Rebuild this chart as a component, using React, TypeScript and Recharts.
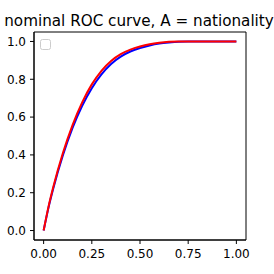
import { LineChart, Line, XAxis, YAxis, ReferenceArea, Customized } from 'recharts'

const fpr = [0, 0.025, 0.05, 0.1, 0.15, 0.2, 0.25, 0.3, 0.35, 0.4, 0.45, 0.5, 0.55, 0.6, 0.65, 0.7, 0.75, 0.8, 0.85, 0.9, 0.95, 1.0]
const tprBlue = [0, 0.12, 0.222, 0.398, 0.543, 0.66, 0.753, 0.826, 0.881, 0.92, 0.947, 0.965, 0.979, 0.989, 0.995, 0.999, 1.0, 1.0, 1.0, 1.0, 1.0, 1.0]
const tprRed = [0, 0.125, 0.23, 0.41, 0.558, 0.678, 0.773, 0.845, 0.897, 0.933, 0.957, 0.973, 0.985, 0.993, 0.998, 1.0, 1.0, 1.0, 1.0, 1.0, 1.0, 1.0]
const xTicks = [0, 0.25, 0.5, 0.75, 1.0]
const yTicks = [0, 0.2, 0.4, 0.6, 0.8, 1.0]
const title = 'nominal ROC curve, A = nationality'

const data = fpr.map((x, i) => ({ x, blue: tprBlue[i], red: tprRed[i] }))

const font = 'DejaVu Sans, sans-serif'
const tickStyle = { fontSize: 12, fill: '#000', fontFamily: font }

export default function App() {
  return (
    <div style={{ position: 'absolute', left: 0, top: 0, width: 274, height: 274, background: '#fff' }}>
      <LineChart width={274} height={274} data={data} margin={{ top: 32, right: 28, left: 0, bottom: 0 }}>
        <XAxis
          dataKey="x"
          type="number"
          domain={[-0.05, 1.05]}
          ticks={xTicks}
          tickFormatter={(v) => v.toFixed(2)}
          tick={tickStyle}
          tickSize={4}
          tickMargin={5}
          height={34}
          stroke="#000"
          tickLine={{ stroke: '#000' }}
          allowDataOverflow
        />
        <YAxis
          type="number"
          domain={[-0.05, 1.05]}
          ticks={yTicks}
          tickFormatter={(v) => v.toFixed(1)}
          tick={tickStyle}
          tickSize={4}
          tickMargin={4}
          width={34}
          stroke="#000"
          tickLine={{ stroke: '#000' }}
          allowDataOverflow
        />
        <ReferenceArea x1={-0.05} x2={1.05} y1={-0.05} y2={1.05} fill="none" stroke="#000" strokeWidth={1} />
        <Line type="monotone" dataKey="blue" stroke="#0000ff" strokeWidth={2} dot={false} isAnimationActive={false} />
        <Line type="monotone" dataKey="red" stroke="#ff0000" strokeWidth={2} dot={false} isAnimationActive={false} />
        <Customized
          component={() => (
            <g>
              <text x={139} y={26} textAnchor="middle" fontSize={15.2} fontFamily={font} fill="#000">
                {title}
              </text>
              <rect x={40.5} y={39.5} width={10} height={10} rx={2} fill="#fff" stroke="#cccccc" strokeWidth={1} />
            </g>
          )}
        />
      </LineChart>
    </div>
  )
}
